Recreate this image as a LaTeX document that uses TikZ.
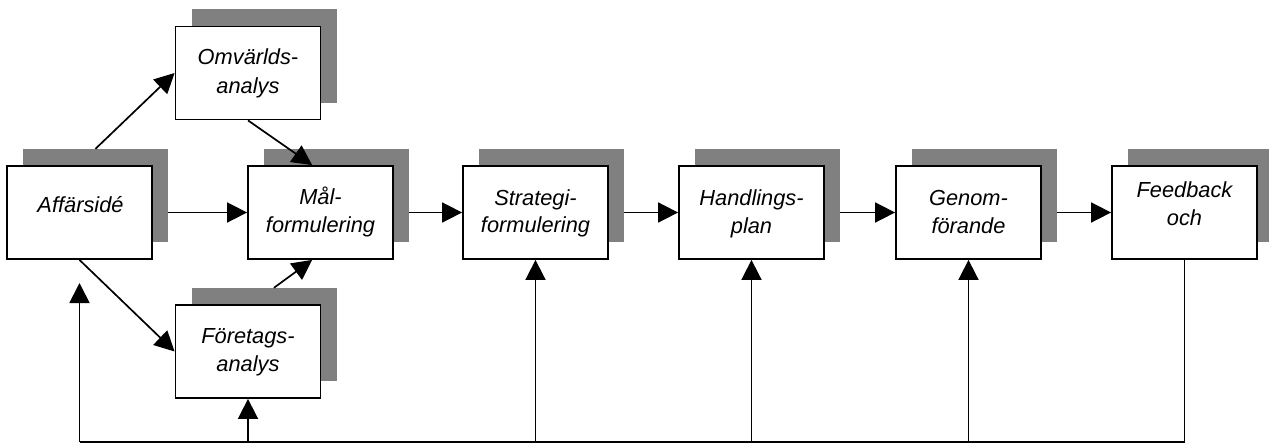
\documentclass[tikz,border=0pt]{standalone}
\usepackage{fontspec}
\setmainfont{Liberation Sans}
\usetikzlibrary{arrows.meta}
\tikzset{
  x=1pt, y=-1pt,
  shadowbox/.style={rectangle, fill=shadowgray, draw=none, minimum width=145pt, minimum height=93pt, inner sep=0pt},
  mainbox/.style={rectangle, fill=white, draw=black, line width=1.8pt, minimum width=145pt, minimum height=93pt, inner sep=0pt},
  lbl/.style={anchor=base, inner sep=0pt, font=\fontsize{21.8}{28}\selectfont\itshape},
  conn/.style={draw=black, line width=1.7pt},
  arr/.style={conn, -{Triangle[length=20pt,width=20pt]}},
}
\definecolor{shadowgray}{HTML}{808080}
\begin{document}
\begin{tikzpicture}
\useasboundingbox (0,0) rectangle (1269,444);
% shadows
\node[shadowbox] (As) at (95.5,195.5) {};
\node[shadowbox] (Os) at (264,56) {};
\node[shadowbox] (Fs) at (264,334.5) {};
\node[shadowbox] (Ms) at (336.5,195.5) {};
\node[shadowbox] (Ss) at (551.5,195.5) {};
\node[shadowbox] (Hs) at (767.5,195.5) {};
\node[shadowbox] (Gs) at (984.5,195.5) {};
\node[shadowbox] (Fbs) at (1200.5,195.5) {};
% boxes
\node[mainbox] (A) at (79.5,212.5) {};
\node[mainbox] (O) at (248,73) {};
\node[mainbox] (F) at (248,351.5) {};
\node[mainbox] (M) at (320.5,212.5) {};
\node[mainbox] (S) at (535.5,212.5) {};
\node[mainbox] (H) at (751.5,212.5) {};
\node[mainbox] (G) at (968.5,212.5) {};
\node[mainbox] (Fb) at (1184.5,212.5) {};
% labels
\node[lbl] (At) at (80.5,212) {Affärsidé};
\node[lbl] (Ot1) at (248,65) {Omvärlds-};
\node[lbl] (Ot2) at (248,93) {analys};
\node[lbl] (Ft1) at (248,343) {Företags-};
\node[lbl] (Ft2) at (248,371) {analys};
\node[lbl] (Mt1) at (320.5,204) {Mål-};
\node[lbl] (Mt2) at (320.5,232) {formulering};
\node[lbl] (St1) at (535.5,205) {Strategi-};
\node[lbl] (St2) at (535.5,232) {formulering};
\node[lbl] (Ht1) at (751.5,205) {Handlings-};
\node[lbl] (Ht2) at (751.5,233) {plan};
\node[lbl] (Gt1) at (968.5,205) {Genom-};
\node[lbl] (Gt2) at (968.5,233) {förande};
\node[lbl] (Fbt1) at (1184.5,197) {Feedback};
\node[lbl] (Fbt2) at (1184.5,225) {och};
% coordinates
\coordinate (bl) at (0,442);
\coordinate (aTip) at (79.5,283);
% diagonal connectors
\draw[arr] (As.north) -- (O.west);
\draw[arr] (A.south) -- (F.west);
\draw[arr] (O.south) -- (M.100);
\draw[arr] (Fs.78) -- (M.260);
% horizontal connectors
\draw[arr] (As.east |- A.east) -- (M.west);
\draw[arr] (Ms.east |- M.east) -- (S.west);
\draw[arr] (Ss.east |- S.east) -- (H.west);
\draw[arr] (Hs.east |- H.east) -- (G.west);
\draw[arr] (Gs.east |- G.east) -- (Fb.west);
% feedback loop
\draw[conn] (Fb.south) -- (Fb.south |- bl) -- (A.south |- bl);
\draw[arr] (A.south |- bl) -- (aTip);
\draw[arr] (F.south |- bl) -- (F.south);
\draw[arr] (S.south |- bl) -- (S.south);
\draw[arr] (H.south |- bl) -- (H.south);
\draw[arr] (G.south |- bl) -- (G.south);
\end{tikzpicture}
\end{document}
